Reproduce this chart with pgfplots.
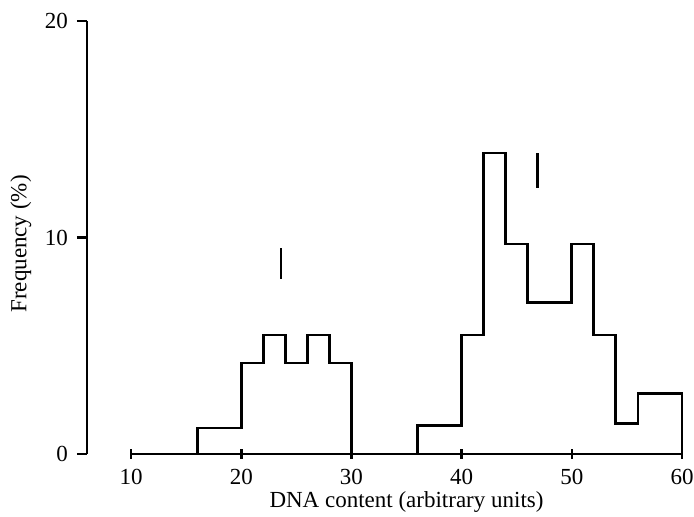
\documentclass[border=0pt]{standalone}
\usepackage{fontspec}
\setmainfont{Liberation Serif}
\usepackage{pgfplots}
\pgfplotsset{compat=1.18}

\begin{document}
\begin{tikzpicture}
\begin{axis}[
  scale only axis,
  width=297.5pt, height=216.5pt,
  xmin=6, xmax=60, ymin=0, ymax=20,
  clip=false,
  axis x line*=bottom, axis y line*=left,
  x axis line style={draw=none},
  y axis line style={-, line width=1.4pt},
  xtick={10,20,...,60}, ytick={0,10,20},
  minor tick num=0,
  xtick align=center, ytick align=outside,
  major tick length=5pt,
  tick style={black, line width=1.3pt},
  xticklabel style={yshift=-1.5pt},
  yticklabel style={xshift=-1pt},
  /pgf/number format/assume math mode=true,
  tick label style={font=\fontsize{11.5}{14}\selectfont},
  label style={font=\fontsize{11.5}{14}\selectfont},
  xlabel={DNA content (arbitrary units)},
  ylabel={Frequency (\%)},
  xlabel style={at={(axis description cs:0.537,-0.124)}, anchor=base},
  ylabel style={at={(axis description cs:-0.111,0.485)}, anchor=center},
  ]
  % x axis line runs only from 10 to 60
  \draw[line width=1.4pt] (axis cs:10,0) -- (axis cs:60,0);

  % histogram, first group
  \addplot[const plot, black, line width=1.4pt] coordinates {
    (16,0) (16,1.2) (20,4.2) (22,5.5) (24,4.2) (26,5.5) (28,4.2) (30,0)
  };
  % histogram, second group
  \addplot[const plot, black, line width=1.4pt] coordinates {
    (36,0) (36,1.3) (40,5.5) (42,13.9) (44,9.7) (46,7.0) (50,9.7)
    (52,5.5) (54,1.4) (56,2.8) (60,0)
  };
  % mean markers
  \addplot[black, line width=1.4pt] coordinates {(23.6,8.1) (23.6,9.5)};
  \addplot[black, line width=1.4pt] coordinates {(46.9,12.3) (46.9,13.9)};
\end{axis}
\pgfresetboundingbox
\path ([shift={(-43.5pt,-31.5pt)}]current axis.south west) rectangle ++(347pt,258.5pt);
\end{tikzpicture}
\end{document}
